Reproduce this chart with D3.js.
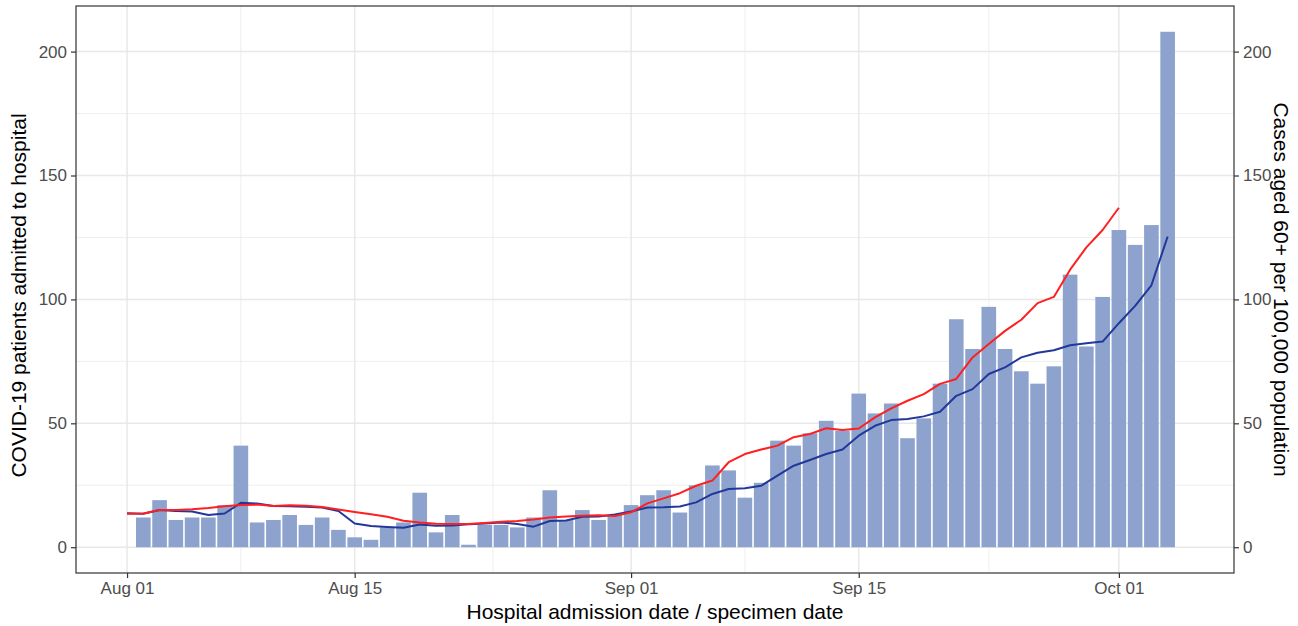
<!DOCTYPE html>
<html>
<head>
<meta charset="utf-8">
<script src="https://cdn.jsdelivr.net/npm/d3@7"></script>
<style>
  html, body { margin: 0; padding: 0; background: #ffffff; }
  svg { display: block; font-family: "Liberation Sans", Arial, sans-serif; }
</style>
</head>
<body>
<svg id="chart" width="1298" height="626"></svg>
<script>
// ---------------- DATA ----------------
const barStart = "2020-08-02";   // first admission bar
const admissions = [
  12,19,11,12,12,17,41,10,11,13, 9,12, 7, 4, 3, 8,10,22, 6,13,
   1, 9, 9, 8,12,23,11,15,11,13,
  17,21,23,14,25,33,31,20,26,43,41,46,51,47,62,54,58,44,52,66,
  92,80,97,80,71,66,73,110,81,101,
  128,122,130,208
];
const lineStart = "2020-08-01";
// Cases aged 60+ per 100,000 (red, ends Oct 01)
const casesRate = [
  13.5,13.6,15.0,15.0,15.3,15.8,16.5,17.0,17.2,16.6,16.9,16.7,16.2,15.2,14.2,13.3,12.3,10.7,10.0,9.5,
  9.4,9.4,9.8,10.3,10.6,11.2,12.0,12.4,12.7,12.9,12.6,
  14.1,17.7,19.7,21.8,24.8,26.9,34.3,37.6,39.4,41.0,44.4,45.7,48.0,47.3,47.9,52.4,56.0,59.1,61.8,65.9,
  67.9,76.6,82.0,87.3,91.8,98.5,101.0,112.0,121.0,128.0,
  137.0
];
// Admissions 7-day average (navy, ends Oct 04)
const admissionsAvg = [
  13.7,13.5,15.0,14.6,14.4,13.0,13.6,17.9,17.6,16.6,16.5,16.3,16.0,14.6,9.6,8.6,8.2,7.9,9.2,8.7,
  8.8,9.3,9.6,10.0,9.4,8.3,10.6,10.8,12.3,12.4,13.2,
  14.4,16.0,16.1,16.4,18.1,21.5,23.5,23.8,24.8,28.9,32.9,35.2,37.6,39.4,45.0,49.0,51.3,51.7,52.8,54.7,
  61.1,63.8,69.9,72.6,76.6,78.5,79.5,81.5,82.3,83.0,
  90.4,97.4,105.7,125.4
];
const xTickDates = ["2020-08-01","2020-08-15","2020-09-01","2020-09-15","2020-10-01"];
const xTickLabels = ["Aug 01","Aug 15","Sep 01","Sep 15","Oct 01"];
const xMinorDates = ["2020-08-08","2020-08-23T12:00","2020-09-08","2020-09-23"];
const yTicks = [0,50,100,150,200];
const yMinor = [25,75,125,175];
const yTitleLeft = "COVID-19 patients admitted to hospital";
const yTitleRight = "Cases aged 60+ per 100,000 population";
const xTitle = "Hospital admission date / specimen date";

// ---------------- LAYOUT ----------------
const W = 1298, H = 626;
const panel = {left: 76, right: 1234, top: 6, bottom: 573};
const DAY = 86400000;
const parse = s => new Date(s + (s.length > 10 ? "Z" : "T00:00Z"));
const t0 = parse(lineStart);
const x = d3.scaleUtc()
  .domain([new Date(+t0 - 3.14*DAY), new Date(+t0 + 68.08*DAY)])
  .range([panel.left, panel.right]);
const y = d3.scaleLinear().domain([-10.4, 218.4]).range([panel.bottom, panel.top]);

const barData = admissions.map((v,i) => ({date: new Date(+parse(barStart) + i*DAY), v}));
const redData = casesRate.map((v,i) => ({date: new Date(+t0 + i*DAY), v}));
const blueData = admissionsAvg.map((v,i) => ({date: new Date(+t0 + i*DAY), v}));

const svg = d3.select("#chart");
svg.append("rect").attr("width", W).attr("height", H).attr("fill", "#fff");

// grid
const grid = svg.append("g");
grid.selectAll(".ymin").data(yMinor).join("line")
  .attr("x1", panel.left).attr("x2", panel.right)
  .attr("y1", d => y(d)).attr("y2", d => y(d))
  .attr("stroke", "#ebebeb").attr("stroke-width", 0.8);
grid.selectAll(".xmin").data(xMinorDates.map(parse)).join("line")
  .attr("y1", panel.top).attr("y2", panel.bottom)
  .attr("x1", d => x(d)).attr("x2", d => x(d))
  .attr("stroke", "#ebebeb").attr("stroke-width", 0.8);
grid.selectAll(".ymaj").data(yTicks).join("line")
  .attr("x1", panel.left).attr("x2", panel.right)
  .attr("y1", d => y(d)).attr("y2", d => y(d))
  .attr("stroke", "#e8e8e8").attr("stroke-width", 1.5);
grid.selectAll(".xmaj").data(xTickDates.map(parse)).join("line")
  .attr("y1", panel.top).attr("y2", panel.bottom)
  .attr("x1", d => x(d)).attr("x2", d => x(d))
  .attr("stroke", "#e8e8e8").attr("stroke-width", 1.5);

// bars
const bw = x(new Date(+t0 + 0.9*DAY)) - x(t0);
svg.append("g").selectAll("rect").data(barData).join("rect")
  .attr("x", d => x(d.date) - bw/2)
  .attr("width", bw)
  .attr("y", d => y(d.v))
  .attr("height", d => y(0) - y(d.v))
  .attr("fill", "#8da3ce");

// lines
const line = d3.line().x(d => x(d.date)).y(d => y(d.v));
svg.append("path").datum(blueData).attr("d", line)
  .attr("fill", "none").attr("stroke", "#22379a").attr("stroke-width", 2).attr("stroke-linejoin", "round");
svg.append("path").datum(redData).attr("d", line)
  .attr("fill", "none").attr("stroke", "#ff1f1f").attr("stroke-width", 2).attr("stroke-linejoin", "round");

// panel border
svg.append("rect")
  .attr("x", panel.left).attr("y", panel.top)
  .attr("width", panel.right - panel.left).attr("height", panel.bottom - panel.top)
  .attr("fill", "none").attr("stroke", "#333333").attr("stroke-width", 1.2);

// axes
const styleAxis = g => {
  g.select(".domain").remove();
  g.selectAll(".tick line").attr("stroke", "#333333").attr("stroke-width", 1.2);
  g.selectAll(".tick text").attr("fill", "#4d4d4d").style("font-size", "17px")
    .style("font-family", "'Liberation Sans', Arial, sans-serif");
};
const xAxis = d3.axisBottom(x).tickValues(xTickDates.map(parse))
  .tickFormat((d,i) => xTickLabels[i]).tickSize(5).tickPadding(4);
svg.append("g").attr("transform", `translate(0,${panel.bottom})`).call(xAxis).call(styleAxis);

const yAxisL = d3.axisLeft(y).tickValues(yTicks).tickFormat(d3.format("d")).tickSize(5).tickPadding(4);
svg.append("g").attr("transform", `translate(${panel.left},0)`).call(yAxisL).call(styleAxis);

const yAxisR = d3.axisRight(y).tickValues(yTicks).tickFormat(d3.format("d")).tickSize(5).tickPadding(4);
svg.append("g").attr("transform", `translate(${panel.right},0)`).call(yAxisR).call(styleAxis);

// titles
const midY = (panel.top + panel.bottom) / 2;
svg.append("text")
  .attr("transform", `translate(26,${midY + 6}) rotate(-90)`)
  .attr("text-anchor", "middle").attr("fill", "#000").style("font-size", "21px")
  .text(yTitleLeft);
svg.append("text")
  .attr("transform", `translate(1274,${midY}) rotate(90)`)
  .attr("text-anchor", "middle").attr("fill", "#000").style("font-size", "21px")
  .text(yTitleRight);
svg.append("text")
  .attr("x", (panel.left + panel.right) / 2).attr("y", 619)
  .attr("text-anchor", "middle").attr("fill", "#000").style("font-size", "21px")
  .text(xTitle);
</script>
</body>
</html>
